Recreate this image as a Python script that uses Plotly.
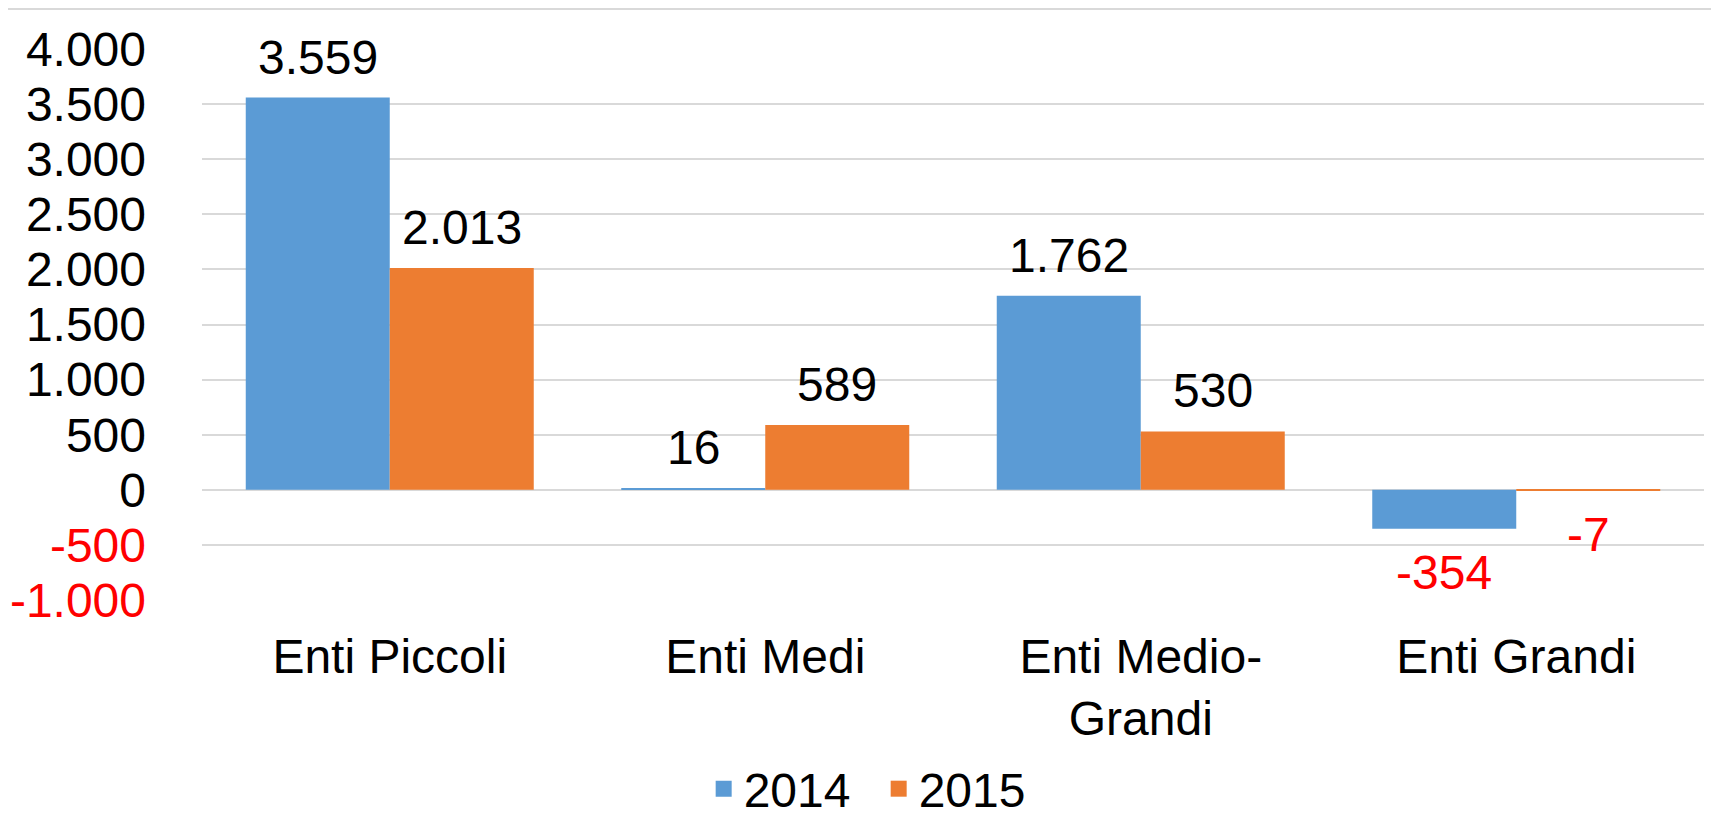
import plotly.graph_objects as go

categories = ["Enti Piccoli", "Enti Medi", "Enti Medio-<br>Grandi", "Enti Grandi"]
series_names = ["2014", "2015"]
values_2014 = [3559, 16, 1762, -354]
values_2015 = [2013, 589, 530, -7]
tick_values = [-1000, -500, 0, 500, 1000, 1500, 2000, 2500, 3000, 3500, 4000]

colors = {"2014": "#5B9BD5", "2015": "#ED7D31"}
FONT = "Liberation Sans, Arial, sans-serif"
FS = 48

# layout (page body has an 8px margin, compensated here)
ML, MR, MT, MB = 194, 23, 41, 242
W, H = 1719, 834
BARGAP = 0.233
plot_w = W - ML - MR
bar_px = plot_w / len(categories) * (1 - BARGAP) / len(series_names)


def fmt(v):
    return f"{v:,}".replace(",", ".")


def tick_text(v):
    s = fmt(v)
    if v < 0:
        return f"<span style='color:#FF0000'>{s}</span>"
    return s


fig = go.Figure()
for name, vals in zip(series_names, [values_2014, values_2015]):
    fig.add_trace(go.Bar(
        x=categories, y=vals, name=name,
        marker=dict(color=colors[name], line=dict(width=0)),
        showlegend=False,
        hoverinfo="skip",
    ))
    # legend entry with a larger square swatch
    fig.add_trace(go.Scatter(
        x=[None], y=[None], mode="markers", name=name,
        marker=dict(symbol="square", size=25, color=colors[name]),
        showlegend=True, hoverinfo="skip",
    ))

annotations = []
for i, (name, vals) in enumerate(zip(series_names, [values_2014, values_2015])):
    xs = (i - (len(series_names) - 1) / 2) * bar_px
    for c, v in zip(categories, vals):
        neg = v < 0
        annotations.append(dict(
            x=c, y=v, xref="x", yref="y", text=fmt(v), showarrow=False,
            xshift=xs, yshift=-15 if neg else 12,
            yanchor="top" if neg else "bottom", xanchor="center",
            font=dict(family=FONT, size=FS, color="#FF0000" if neg else "#000000"),
        ))

fig.update_layout(
    width=W, height=H,
    margin=dict(l=ML, r=MR, t=MT, b=MB, autoexpand=False),
    paper_bgcolor="white", plot_bgcolor="white",
    barmode="group", bargap=BARGAP, bargroupgap=0,
    font=dict(family=FONT, size=FS, color="#000000"),
    showlegend=True,
    legend=dict(orientation="h", x=0.334, xanchor="left", y=-0.343, yanchor="middle",
                font=dict(family=FONT, size=FS), entrywidth=130, entrywidthmode="pixels",
                itemsizing="trace", bgcolor="rgba(0,0,0,0)"),
    annotations=annotations,
)

fig.update_xaxes(
    automargin=False,
    showgrid=False, showline=False, ticks="", zeroline=False,
    tickfont=dict(family=FONT, size=FS, color="#000000"),
    ticklabelstandoff=24,
)
fig.update_yaxes(
    automargin=False,
    range=[-1000, 4000],
    tickvals=tick_values,
    ticktext=[tick_text(v) for v in tick_values],
    showgrid=True, gridcolor="#D9D9D9", gridwidth=1.5,
    zeroline=True, zerolinecolor="#D9D9D9", zerolinewidth=1.5,
    showline=False, ticks="",
    tickfont=dict(family=FONT, size=FS, color="#000000"),
    ticklabelstandoff=55,
)

fig.add_shape(type="line", xref="paper", yref="paper",
              x0=-0.135, x1=1.02, y0=1.0726, y1=1.0726,
              line=dict(color="#D9D9D9", width=2))

fig.write_html("out.html")
